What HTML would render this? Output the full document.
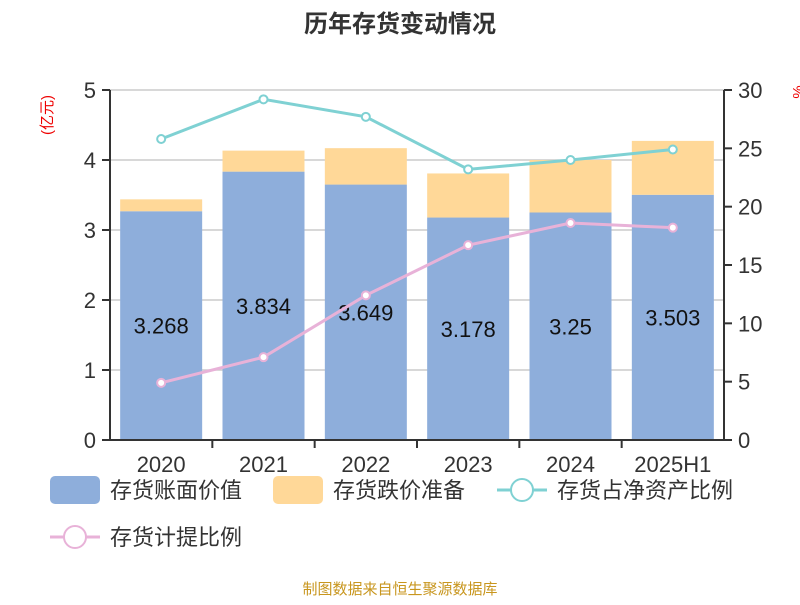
<!DOCTYPE html>
<html><head><meta charset="utf-8"><style>
body{margin:0;background:#fff;width:800px;height:600px;overflow:hidden}
svg{font-family:"Liberation Sans","Noto Sans CJK SC",sans-serif}
</style></head><body>
<svg id="chart" width="800" height="600">
<text x="400" y="32" text-anchor="middle" font-size="24" font-weight="bold" fill="#333">历年存货变动情况</text>
<text transform="translate(52,115) rotate(-90)" text-anchor="middle" font-size="15" fill="#e00">(亿元)</text>
<text transform="translate(803,92) rotate(-90)" text-anchor="middle" font-size="15" fill="#e00">%</text>
<g id="grid"></g><g id="bars"></g><g id="lines"></g><g id="axes"></g>
<g font-size="22" fill="#333">
<rect x="50" y="476" width="50" height="28" rx="5" fill="#8eaedb"/>
<text x="110" y="498">存货账面价值</text>
<rect x="273" y="476" width="50" height="28" rx="5" fill="#ffd898"/>
<text x="333" y="498">存货跌价准备</text>
<line x1="497" y1="490" x2="547" y2="490" stroke="#7fd1d3" stroke-width="3"/>
<circle cx="522" cy="490" r="11" fill="#fff" stroke="#7fd1d3" stroke-width="2"/>
<text x="557" y="498">存货占净资产比例</text>
<line x1="50" y1="537" x2="100" y2="537" stroke="#e8b2d8" stroke-width="3"/>
<circle cx="75" cy="537" r="11" fill="#fff" stroke="#e8b2d8" stroke-width="2"/>
<text x="110" y="545">存货计提比例</text>
</g>
<text x="400" y="594" text-anchor="middle" font-size="15" fill="#c8961e">制图数据来自恒生聚源数据库</text>
</svg>
<script>
const categories=["2020","2021","2022","2023","2024","2025H1"];
const bookValue=[3.268,3.834,3.649,3.178,3.25,3.503];
const impairment=[0.17,0.30,0.52,0.63,0.75,0.77];
const netAssetRatio=[25.8,29.2,27.7,23.2,24.0,24.9];
const provisionRatio=[4.9,7.1,12.4,16.7,18.6,18.2];
const leftTicks=[0,1,2,3,4,5];
const rightTicks=[0,5,10,15,20,25,30];
const NS="http://www.w3.org/2000/svg";
const X0=110,X1=724,Y0=440,Y1=90;
const band=(X1-X0)/categories.length;
const xc=i=>X0+band*(i+0.5);
const yL=v=>Y0-(v/5)*(Y0-Y1);
const yR=v=>Y0-(v/30)*(Y0-Y1);
function mk(tag,attrs,parent){const e=document.createElementNS(NS,tag);for(const k in attrs)e.setAttribute(k,attrs[k]);document.getElementById(parent).appendChild(e);return e;}
leftTicks.forEach(t=>{
 if(t>0){const g=mk('line',{x1:X0,x2:X1,y1:yL(t),y2:yL(t),stroke:'#ccc','stroke-width':1.5},'grid');
 
 }
 const tk=mk('line',{x1:X0-8,x2:X0,y1:yL(t),y2:yL(t),stroke:'#333','stroke-width':2},'axes');
 
 
 const tx=mk('text',{x:X0-14,y:yL(t)+8,'text-anchor':'end','font-size':22,fill:'#333'},'axes');tx.textContent=t;
 
 
});
rightTicks.forEach(t=>{
 const tk=mk('line',{x1:X1,x2:X1+8,y1:yR(t),y2:yR(t),stroke:'#333','stroke-width':2},'axes');
 
 
 const tx=mk('text',{x:X1+14,y:yR(t)+8,'font-size':22,fill:'#333'},'axes');tx.textContent=t;
 
 
});
[[X0,'left-axis'],[X1,'right-axis']].forEach(([x,n])=>{const a=mk('line',{x1:x,x2:x,y1:Y1,y2:Y0,stroke:'#333','stroke-width':2},'axes');
 
 });
const xa=mk('line',{x1:X0,x2:X1,y1:Y0,y2:Y0,stroke:'#333','stroke-width':2},'axes');


categories.forEach((c,i)=>{
 const bw=82,x=xc(i)-bw/2;
 const b=mk('rect',{x:x,y:yL(bookValue[i]),width:bw,height:Y0-yL(bookValue[i]),fill:'#8eaedb'},'bars');
 
 
 const top=bookValue[i]+impairment[i];
 const r=mk('rect',{x:x,y:yL(top),width:bw,height:yL(bookValue[i])-yL(top),fill:'#ffd898'},'bars');
 
 
 const lb=mk('text',{x:xc(i),y:yL(bookValue[i]/2)+8,'text-anchor':'middle','font-size':22,fill:'#111'},'bars');lb.textContent=bookValue[i];
 
 
 if(i>0){const d=mk('line',{x1:X0+band*i,x2:X0+band*i,y1:Y0,y2:Y0+8,stroke:'#333','stroke-width':2},'axes');
 
 }
 const ct=mk('text',{x:xc(i),y:Y0+32,'text-anchor':'middle','font-size':22,fill:'#333'},'axes');ct.textContent=c;
 
 
});
function line(vals,color,name){
 const p=mk('polyline',{points:vals.map((v,i)=>xc(i)+','+yR(v)).join(' '),fill:'none',stroke:color,'stroke-width':3},'lines');
 
 
 vals.forEach((v,i)=>{const c=mk('circle',{cx:xc(i),cy:yR(v),r:4,fill:'#fff',stroke:color,'stroke-width':2},'lines');
 
 });
}
line(netAssetRatio,'#7fd1d3','net-asset-ratio');
line(provisionRatio,'#e8b2d8','provision-ratio');
</script>
</body></html>
